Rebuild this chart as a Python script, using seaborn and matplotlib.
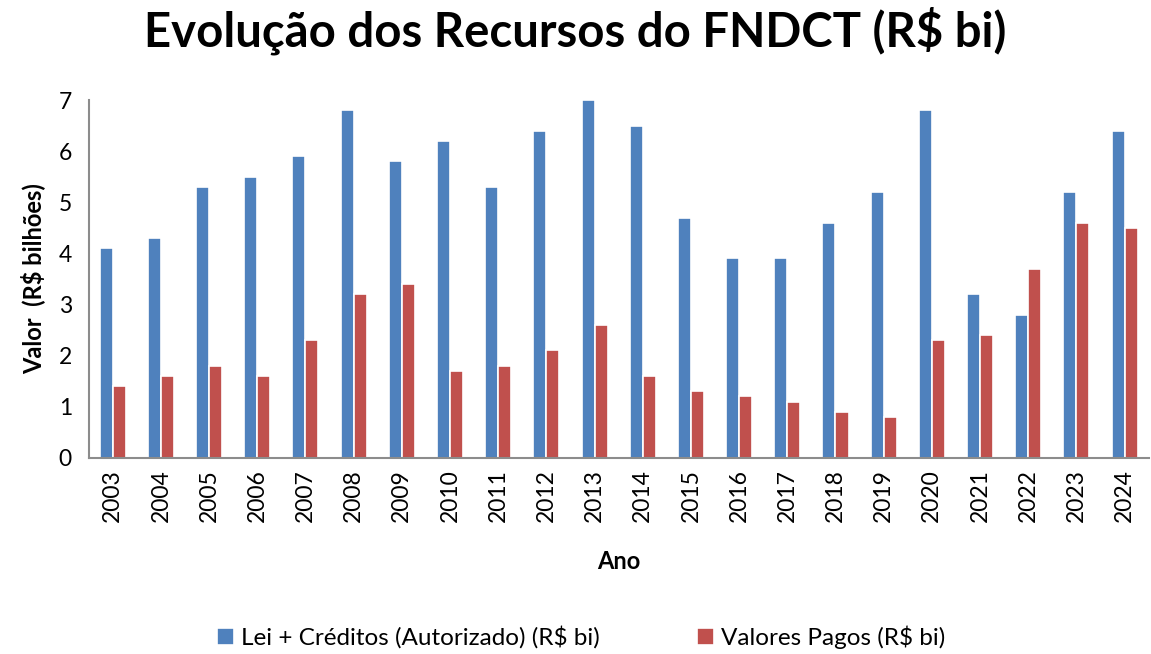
import pandas as pd
import seaborn as sns
import matplotlib.pyplot as plt

anos = ["2003", "2004", "2005", "2006", "2007", "2008", "2009", "2010", "2011", "2012", "2013",
        "2014", "2015", "2016", "2017", "2018", "2019", "2020", "2021", "2022", "2023", "2024"]
autorizado = [4.1, 4.3, 5.3, 5.5, 5.9, 6.8, 5.8, 6.2, 5.3, 6.4, 7.0,
              6.5, 4.7, 3.9, 3.9, 4.6, 5.2, 6.8, 3.2, 2.8, 5.2, 6.4]
pagos = [1.4, 1.6, 1.8, 1.6, 2.3, 3.2, 3.4, 1.7, 1.8, 2.1, 2.6,
         1.6, 1.3, 1.2, 1.1, 0.9, 0.8, 2.3, 2.4, 3.7, 4.6, 4.5]
series = ["Lei + Créditos (Autorizado) (R$ bi)", "Valores Pagos (R$ bi)"]

df = pd.DataFrame({"Ano": anos, series[0]: autorizado, series[1]: pagos})
df = df.melt(id_vars="Ano", var_name="Serie", value_name="Valor")

sns.set_style("white")
plt.rcParams["font.family"] = ["Lato", "DejaVu Sans"]
plt.rcParams["text.color"] = "black"
plt.rcParams["axes.labelcolor"] = "black"
plt.rcParams["xtick.color"] = "black"
plt.rcParams["ytick.color"] = "black"

fig, ax = plt.subplots(figsize=(11.51, 6.54), dpi=100)
fig.subplots_adjust(left=0.077, right=0.998, top=0.847, bottom=0.30)

sns.barplot(data=df, x="Ano", y="Valor", hue="Serie", palette=["#4F81BD", "#C0504D"],
            saturation=1, width=0.54, edgecolor="white", linewidth=1.2, ax=ax)

ax.set_ylim(0, 7)
ax.set_yticks(range(0, 8))
ax.tick_params(axis="y", labelsize=16.5, length=0, pad=12)
ax.tick_params(axis="x", labelsize=16.5, length=0, rotation=90, pad=8)
ax.set_xlim(-0.5, len(anos) - 0.5)
for s in ["top", "right"]:
    ax.spines[s].set_visible(False)
for s in ["left", "bottom"]:
    ax.spines[s].set_color("#8c8c8c")
    ax.spines[s].set_linewidth(1.5)

ax.set_xlabel("Ano", fontsize=17, fontweight="bold", labelpad=20)
ax.set_ylabel("Valor  (R$ bilhões)", fontsize=17, fontweight="bold", labelpad=10)
fig.suptitle("Evolução dos Recursos do FNDCT (R$ bi)", fontsize=34, fontweight="bold", y=0.99)

handles, labels = ax.get_legend_handles_labels()
ax.get_legend().remove()
fig.legend(handles, labels, loc="center", bbox_to_anchor=(0.505, 0.026), ncol=2, frameon=False,
           fontsize=17.5, handlelength=0.7, handleheight=0.7, handletextpad=0.3, columnspacing=4)

fig.savefig("out.png", dpi=100)
